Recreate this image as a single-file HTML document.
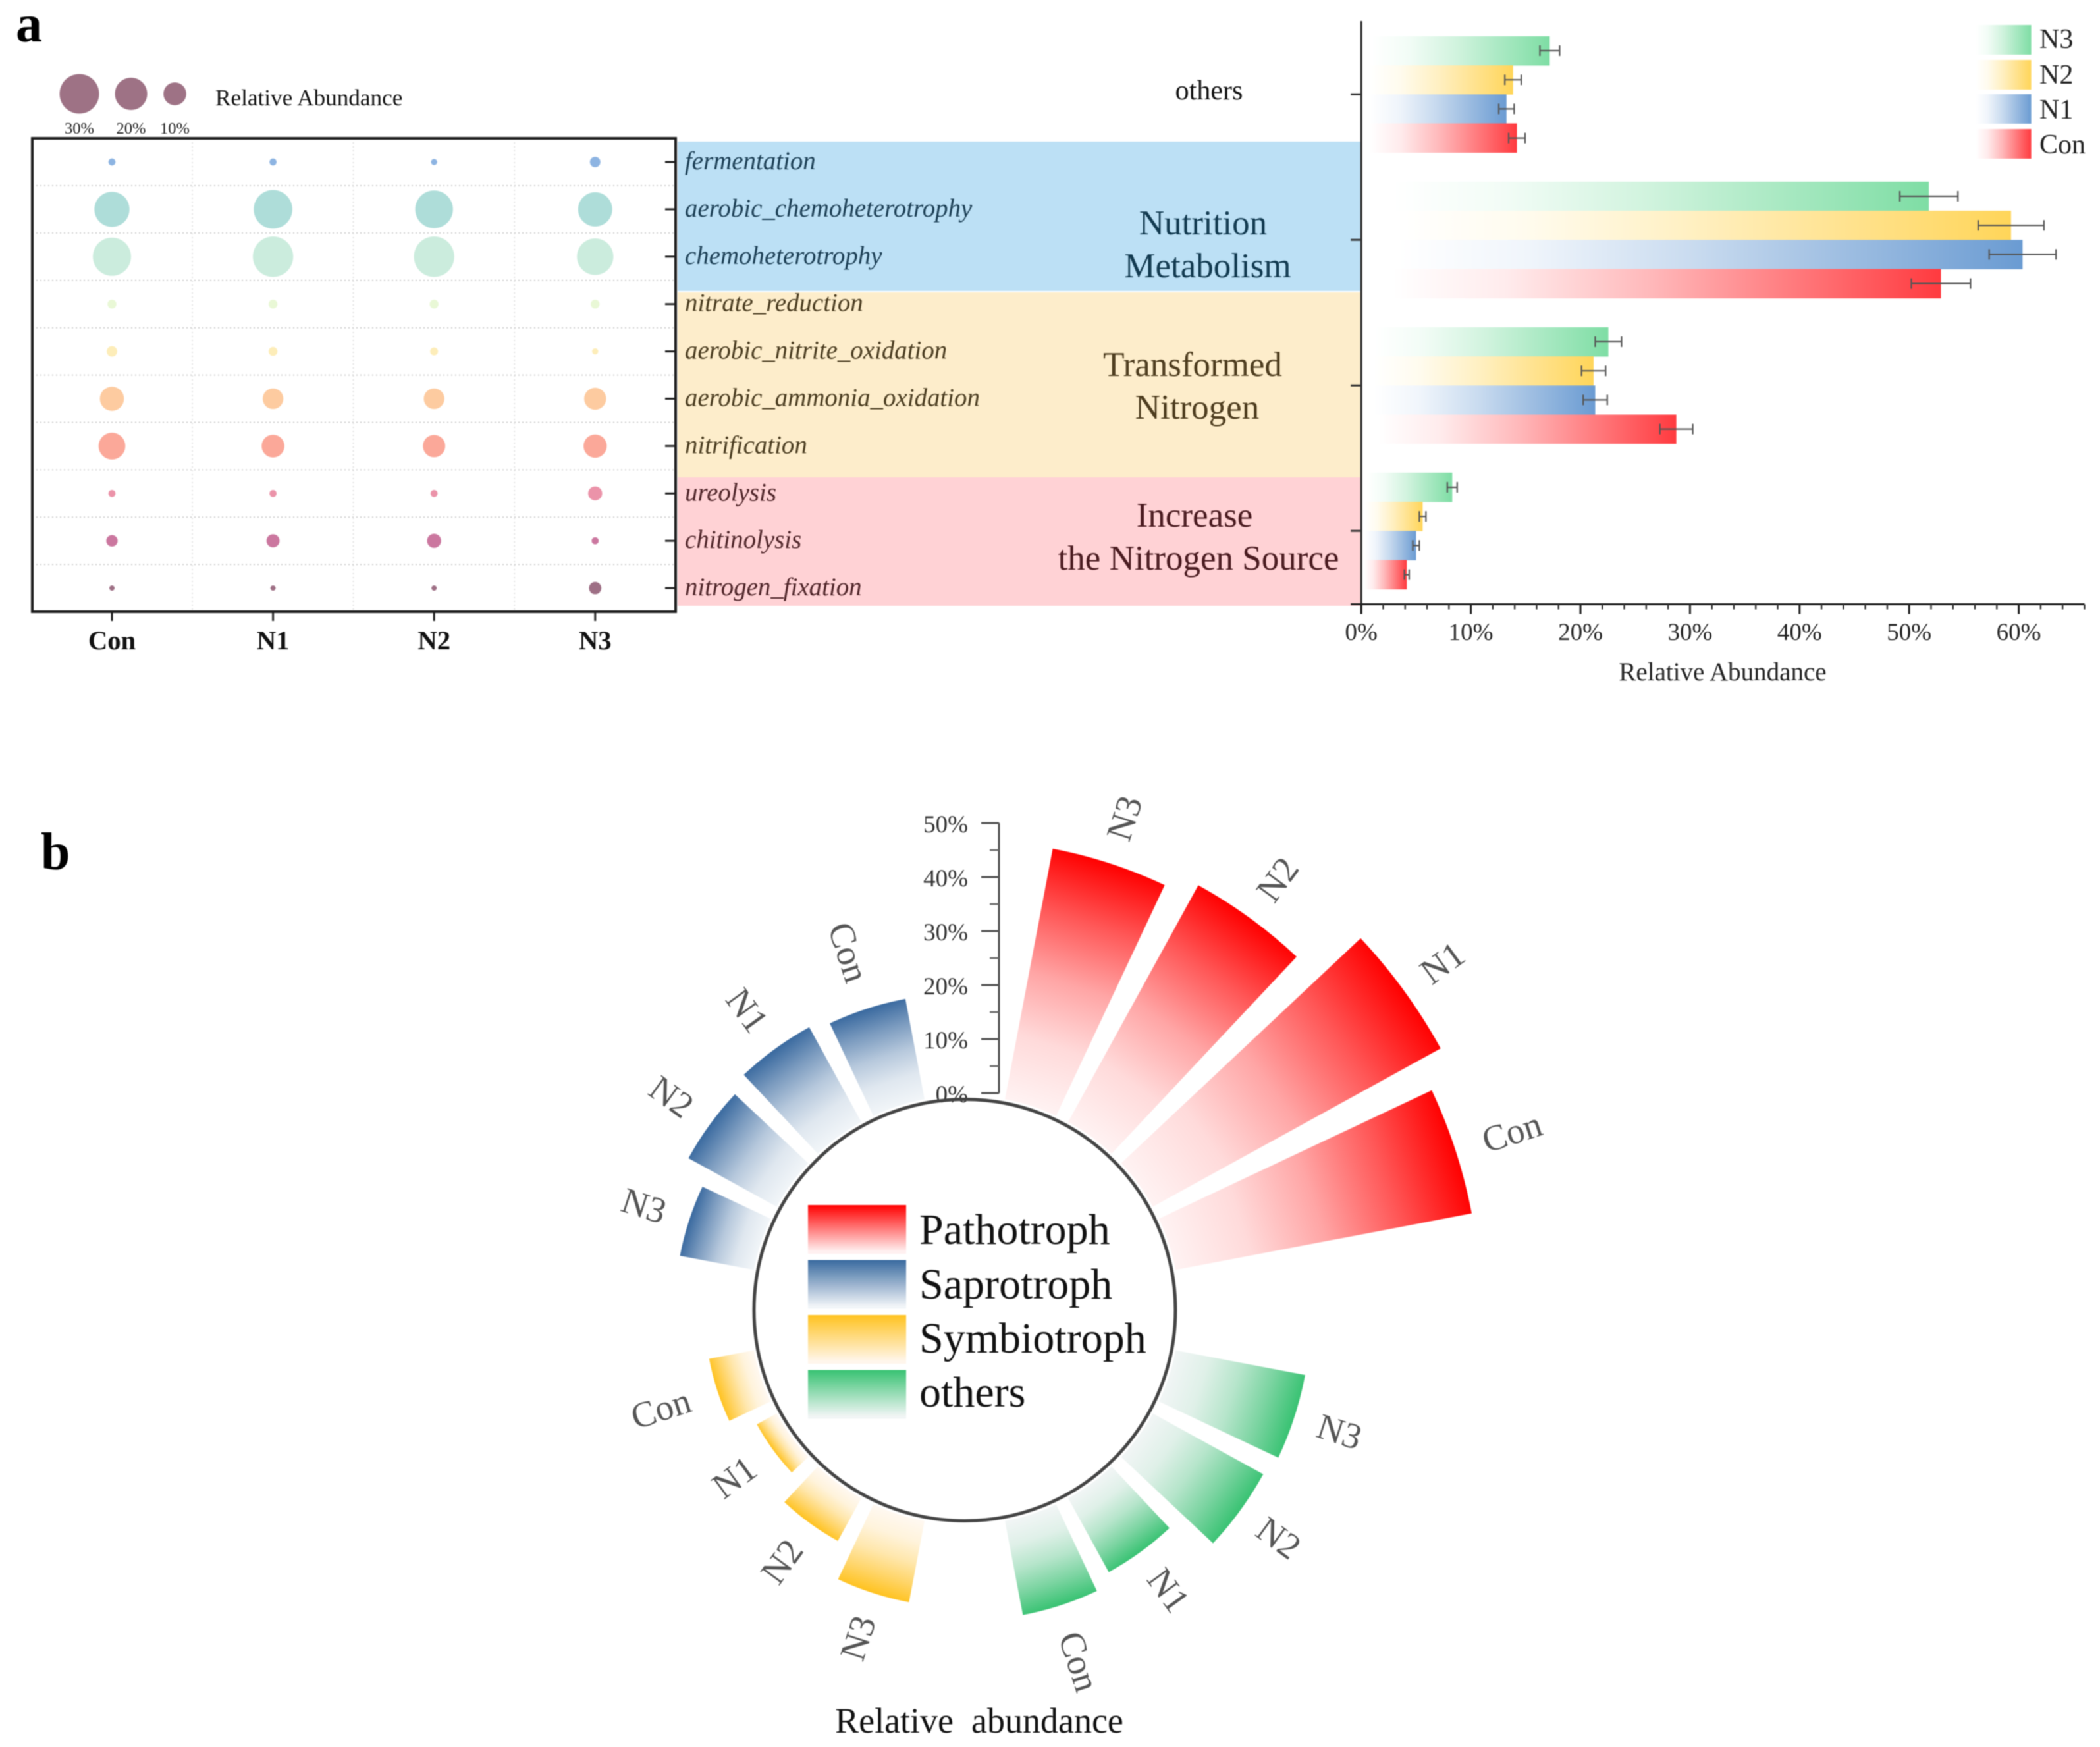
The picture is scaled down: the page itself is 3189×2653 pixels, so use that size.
<!DOCTYPE html>
<html lang="en">
<head>
<meta charset="utf-8">
<title>Functional relative abundance charts</title>
<style>
html,body{margin:0;padding:0;background:#fff;}
svg{display:block;font-family:"Liberation Serif",serif;filter:blur(0.7px);}
</style>
</head>
<body>
<svg id="figure" xmlns="http://www.w3.org/2000/svg" width="3189" height="2653" viewBox="0 0 3189 2653">
  <defs id="defs"></defs>
  <rect x="0" y="0" width="3189" height="2653" fill="#fff"/>
  <text x="24" y="63" font-size="80" font-weight="bold" fill="#000">a</text>
  <text x="62" y="1320" font-size="80" font-weight="bold" fill="#000">b</text>

  <rect x="1029" y="215" width="1038" height="227" fill="#bce0f5"/>
  <rect x="1029" y="444" width="1038" height="281" fill="#fdedcb"/>
  <rect x="1029" y="725" width="1038" height="195" fill="#ffd2d5"/>

  <text x="1836" y="151" font-size="42" text-anchor="middle" fill="#111">others</text>
  <text x="1827" y="356" font-size="53" text-anchor="middle" fill="#123a50">Nutrition</text>
  <text x="1834" y="421" font-size="53" text-anchor="middle" fill="#123a50">Metabolism</text>
  <text x="1811" y="571" font-size="53" text-anchor="middle" fill="#4d3c1e">Transformed</text>
  <text x="1818" y="636" font-size="53" text-anchor="middle" fill="#4d3c1e">Nitrogen</text>
  <text x="1814" y="800" font-size="53" text-anchor="middle" fill="#4a1b20">Increase</text>
  <text x="1820" y="865" font-size="53" text-anchor="middle" fill="#4a1b20">the Nitrogen Source</text>

  <g id="bubble-chart"></g>
  <g id="bar-chart"></g>
  <g id="polar-chart"></g>

  <text x="327" y="160" font-size="35.2" fill="#111">Relative Abundance</text>
  <text x="2616" y="1033" font-size="39" text-anchor="middle" fill="#222">Relative Abundance</text>
  <text x="1487" y="2631" font-size="54" text-anchor="middle" fill="#111">Relative&#160;&#160;abundance</text>
</svg>

<script>
/* ---------- bubble chart data ---------- */
const bubbleTreatments = ['Con', 'N1', 'N2', 'N3'];
const bubbleFunctions = ['fermentation', 'aerobic_chemoheterotrophy', 'chemoheterotrophy', 'nitrate_reduction', 'aerobic_nitrite_oxidation', 'aerobic_ammonia_oxidation', 'nitrification', 'ureolysis', 'chitinolysis', 'nitrogen_fixation'];
const bubbleCon = [0.95, 23.7, 28, 1.5, 2.1, 11.2, 13.8, 0.95, 2.5, 0.53];
const bubbleN1 = [0.95, 28.7, 31.3, 1.5, 1.5, 8.2, 10, 0.95, 3.3, 0.53];
const bubbleN2 = [0.73, 27.4, 31.3, 1.5, 1.2, 8.2, 9.6, 0.95, 3.8, 0.53];
const bubbleN3 = [2.1, 22.5, 25.5, 1.5, 0.73, 9.3, 10.4, 3.8, 0.95, 2.9];
const bubbleColors = ['#8db4e2', '#aeddd9', '#cbecdd', '#e9f8d6', '#fdedb9', '#fdcba0', '#fba899', '#eb93a9', '#cb779f', '#9e6f85'];
const bubbleLegendValues = [30, 20, 10];
const bubbleLegendLabels = ['30%', '20%', '10%'];

/* ---------- bar chart data ---------- */
const barGroups = ['others', 'nutrition-metabolism', 'transformed-nitrogen', 'increase-nitrogen-source'];
const barSeriesNames = ['N3', 'N2', 'N1', 'Con'];
const barN3 = [17.2, 51.8, 22.55, 8.3];
const barN2 = [13.85, 59.3, 21.2, 5.6];
const barN1 = [13.25, 60.35, 21.35, 5.0];
const barCon = [14.2, 52.9, 28.75, 4.15];
const errN3 = [0.9, 2.65, 1.2, 0.45];
const errN2 = [0.75, 3.0, 1.1, 0.3];
const errN1 = [0.7, 3.05, 1.1, 0.3];
const errCon = [0.75, 2.7, 1.5, 0.22];
const barColors = ['#7edda4', '#ffd559', '#6a9bd2', '#ff3a3f'];
const barTickLabels = ['0%', '10%', '20%', '30%', '40%', '50%', '60%'];
const barTickValues = [0, 10, 20, 30, 40, 50, 60];

/* ---------- polar chart data ---------- */
const polarGroupNames = ['Pathotroph', 'others', 'Symbiotroph', 'Saprotroph'];
const polarTreatments = ['N3', 'N2', 'N1', 'Con'];
const polarPathotroph = [46.8, 49.6, 60.4, 55.4];
const polarOthers = [24, 22.9, 15.2, 17.3];
const polarSymbiotroph = [14.9, 8.6, 3.75, 8.0];
const polarSaprotroph = [13.5, 18.2, 19.6, 18.5];
const polarColors = ['#ff0000', '#38c272', '#ffc21f', '#39699f'];
const polarTints = ['#fff2f2', '#f1f5f5', '#fff8f0', '#f1f5f8'];
const polarLegendNames = ['Pathotroph', 'Saprotroph', 'Symbiotroph', 'others'];
const polarLegendColors = ['#ff0000', '#39699f', '#ffc21f', '#38c272'];
const polarLegendTints = ['#fff0f0', '#f1f5f8', '#fff6ec', '#f1f5f5'];
const polarTickValues = [0, 10, 20, 30, 40, 50];
const polarTickLabels = ['0%', '10%', '20%', '30%', '40%', '50%'];

const SVGNS = 'http://www.w3.org/2000/svg';
const defs = document.getElementById('defs');
function make(tag, parent, attrs, text) {
  const node = document.createElementNS(SVGNS, tag);
  for (const k in attrs) node.setAttribute(k, attrs[k]);
  if (text !== undefined) node.textContent = text;
  parent.appendChild(node);
  return node;
}
function hexMix(a, b, t) {
  const pa = [1, 3, 5].map(i => parseInt(a.substr(i, 2), 16));
  const pb = [1, 3, 5].map(i => parseInt(b.substr(i, 2), 16));
  return 'rgb(' + pa.map((v, i) => Math.round(v + (pb[i] - v) * t)).join(',') + ')';
}
const RAMP_POS = [0, 0.25, 0.5, 0.75, 1];
const RAMP_MIX = [0, 0.1, 0.32, 0.64, 1];

/* ========== bubble chart ========== */
(function () {
  const g = document.getElementById('bubble-chart');
  const box = { left: 49, right: 1026, top: 210, bottom: 929 };
  const colX = i => 170 + i * 244.6;
  const rowY = i => 246 + i * 71.9;
  const radius = v => 30 * Math.sqrt(v / 30);
  const series = [bubbleCon, bubbleN1, bubbleN2, bubbleN3];
  const rowTextColors = ['#1c3f55', '#1c3f55', '#1c3f55', '#4a3c20', '#4a3c20', '#4a3c20', '#4a3c20', '#4f2529', '#4f2529', '#4f2529'];

  bubbleFunctions.forEach((name, r) => {
    if (r < bubbleFunctions.length - 1) {
      const grid = make('line', g, { x1: box.left, x2: box.right, y1: rowY(r) + 36, y2: rowY(r) + 36, stroke: '#cfcfcf', 'stroke-width': 2, 'stroke-dasharray': '2 4' });
      
      
    }
    const tick = make('line', g, { x1: box.right - 16, x2: box.right, y1: rowY(r), y2: rowY(r), stroke: '#222', 'stroke-width': 3 });
    
    
    const label = make('text', g, { x: 1040, y: rowY(r) + 11, 'font-size': 38.9, 'font-style': 'italic', fill: rowTextColors[r] }, name);
    
    
  });

  bubbleTreatments.forEach((name, c) => {
    if (c < bubbleTreatments.length - 1) {
      const grid = make('line', g, { x1: colX(c) + 122, x2: colX(c) + 122, y1: box.top, y2: box.bottom, stroke: '#e2e2e2', 'stroke-width': 2, 'stroke-dasharray': '2 4' });
      
      
    }
    const tick = make('line', g, { x1: colX(c), x2: colX(c), y1: box.bottom, y2: box.bottom + 14, stroke: '#222', 'stroke-width': 3 });
    
    
    const label = make('text', g, { x: colX(c), y: 986, 'font-size': 40.7, 'font-weight': 'bold', 'text-anchor': 'middle', fill: '#111' }, name);
    
    
    series[c].forEach((v, r) => {
      const dot = make('circle', g, { cx: colX(c), cy: rowY(r), r: radius(v), fill: bubbleColors[r] });
      
      
    });
  });

  const frame = make('rect', g, { x: box.left, y: box.top, width: box.right - box.left, height: box.bottom - box.top, fill: 'none', stroke: '#1c1c1c', 'stroke-width': 4 });
  
  

  const legendX = [120.5, 199, 265.5];
  bubbleLegendValues.forEach((v, i) => {
    const dot = make('circle', g, { cx: legendX[i], cy: 142.5, r: radius(v), fill: '#9e7285' });
    
    
    const label = make('text', g, { x: legendX[i], y: 203, 'font-size': 24.5, 'text-anchor': 'middle', fill: '#222' }, bubbleLegendLabels[i]);
    
    
  });
})();

/* ========== bar chart ========== */
(function () {
  const g = document.getElementById('bar-chart');
  const x0 = 2067.2;
  const pxPerUnit = 16.64;
  const xAxis = v => x0 + v * pxPerUnit;
  const groupY = i => 143.3 + i * 221;
  const barH = 44.2;
  const axisY = 917.5;
  const series = [barN3, barN2, barN1, barCon];
  const errors = [errN3, errN2, errN1, errCon];

  barColors.forEach((c, i) => {
    const lg = make('linearGradient', defs, { id: 'barGrad' + i, x1: 0, x2: 1, y1: 0, y2: 0 });
    make('stop', lg, { offset: '0.05', 'stop-color': '#ffffff' });
    make('stop', lg, { offset: '0.25', 'stop-color': hexMix('#ffffff', c, 0.1) });
    make('stop', lg, { offset: '0.5', 'stop-color': hexMix('#ffffff', c, 0.36) });
    make('stop', lg, { offset: '0.75', 'stop-color': hexMix('#ffffff', c, 0.68) });
    make('stop', lg, { offset: '1', 'stop-color': c });
  });

  barGroups.forEach((name, gi) => {
    series.forEach((vals, si) => {
      const top = groupY(gi) - 2 * barH + si * barH;
      const bar = make('rect', g, { x: xAxis(0) + 1, y: top, width: xAxis(vals[gi]) - xAxis(0) - 1, height: barH + 0.4, fill: 'url(#barGrad' + si + ')' });
      
      
      const cy = top + barH / 2;
      const lo = xAxis(vals[gi] - errors[si][gi]);
      const hi = xAxis(vals[gi] + errors[si][gi]);
      const eb = make('path', g, { d: 'M' + lo + ' ' + (cy - 8) + 'V' + (cy + 8) + 'M' + lo + ' ' + cy + 'H' + hi + 'M' + hi + ' ' + (cy - 8) + 'V' + (cy + 8), fill: 'none', stroke: '#555', 'stroke-width': 2.2 });
      
      
    });
    const tick = make('line', g, { x1: xAxis(0) - 16, x2: xAxis(0), y1: groupY(gi), y2: groupY(gi), stroke: '#333', 'stroke-width': 3 });
    
    
  });

  const yAxis = make('line', g, { x1: xAxis(0), x2: xAxis(0), y1: 32, y2: axisY + 15, stroke: '#333', 'stroke-width': 3 });
  
  
  const xLine = make('line', g, { x1: xAxis(0) - 16, x2: xAxis(66), y1: axisY, y2: axisY, stroke: '#222', 'stroke-width': 3 });
  
  

  for (let m = 0; m <= 66; m += 2) {
    if (m % 10 === 0) continue;
    const minor = make('line', g, { x1: xAxis(m), x2: xAxis(m), y1: axisY, y2: axisY + 8, stroke: '#333', 'stroke-width': 2.4 });
    
    
  }
  barTickValues.forEach((v, i) => {
    const t = make('line', g, { x1: xAxis(v), x2: xAxis(v), y1: axisY, y2: axisY + 15, stroke: '#222', 'stroke-width': 3 });
    
    
    const lab = make('text', g, { x: xAxis(v), y: 972, 'font-size': 37, 'text-anchor': 'middle', fill: '#222' }, barTickLabels[i]);
    
    
  });

  const legendY = [38, 91, 143, 196];
  const legendText = [73, 127, 180, 233];
  barSeriesNames.forEach((n, i) => {
    const sw = make('rect', g, { x: 2996, y: legendY[i], width: 88.5, height: 45, fill: 'url(#barGrad' + i + ')' });
    
    
    const t = make('text', g, { x: 3097, y: legendText[i], 'font-size': 42, fill: '#222' }, n);
    
    
  });
})();

/* ========== polar chart ========== */
(function () {
  const g = document.getElementById('polar-chart');
  const cx = 1465, cy = 1989.5;
  const r0 = 329.5, pxPerUnit = 8.2, innerR = 326;
  const rAxis = v => r0 + v * pxPerUnit;
  const series = [polarPathotroph, polarOthers, polarSymbiotroph, polarSaprotroph];
  const startSlot = [0, 5, 10, 15];
  const slotStart = s => 10.8 + 18 * s;
  const sweep = 14.4;
  const pt = (r, deg) => {
    const a = deg * Math.PI / 180;
    return [cx + r * Math.sin(a), cy - r * Math.cos(a)];
  };

  series.forEach((vals, gi) => {
    vals.forEach((v, i) => {
      const a0 = slotStart(startSlot[gi] + i);
      const a1 = a0 + sweep;
      const mid = a0 + sweep / 2;
      const R = rAxis(v);
      const gradId = 'sectorGrad' + gi + '_' + i;
      const gStart = pt(innerR, mid);
      const gEnd = pt(R, mid);
      const lg = make('linearGradient', defs, { id: gradId, gradientUnits: 'userSpaceOnUse', x1: gStart[0], y1: gStart[1], x2: gEnd[0], y2: gEnd[1] });
      RAMP_POS.forEach((p, s) => {
        make('stop', lg, { offset: p, 'stop-color': hexMix(polarTints[gi], polarColors[gi], RAMP_MIX[s]) });
      });
      const p1 = pt(innerR, a0), p2 = pt(R, a0), p3 = pt(R, a1), p4 = pt(innerR, a1);
      const d = 'M' + p1 + 'L' + p2 + 'A' + R + ' ' + R + ' 0 0 1 ' + p3 + 'L' + p4 + 'A' + innerR + ' ' + innerR + ' 0 0 0 ' + p1 + 'Z';
      const sector = make('path', g, { d: d, fill: 'url(#' + gradId + ')' });
      
      

      const name = polarTreatments[i];
      const labelR = R + 46 + (name === 'Con' ? 44 : 26);
      const lp = pt(labelR, mid);
      const rot = mid < 180 ? mid - 90 : mid - 270;
      const label = make('text', g, { x: lp[0], y: lp[1], dy: '0.33em', 'font-size': 55, 'text-anchor': 'middle', fill: '#555', transform: 'rotate(' + rot + ' ' + lp[0] + ' ' + lp[1] + ')' }, name);
      
      
    });
  });

  /* radial axis */
  const axisX = 1517;
  const axisY = v => cy - rAxis(v);
  const axis = make('line', g, { x1: axisX, x2: axisX, y1: axisY(0), y2: axisY(50), stroke: '#555', 'stroke-width': 3 });
  
  
  polarTickValues.forEach((v, i) => {
    const t = make('line', g, { x1: axisX - 27, x2: axisX, y1: axisY(v), y2: axisY(v), stroke: '#555', 'stroke-width': 3 });
    
    
    if (v < 50) {
      const m = make('line', g, { x1: axisX - 14, x2: axisX, y1: axisY(v + 5), y2: axisY(v + 5), stroke: '#666', 'stroke-width': 2.5 });
      
      
    }
    const lab = make('text', g, { x: 1470, y: axisY(v) + 14, 'font-size': 37, 'text-anchor': 'end', fill: '#333' }, polarTickLabels[i]);
    
    
  });

  const circle = make('circle', g, { cx: cx, cy: cy, r: 320, fill: '#fff', 'fill-opacity': 0, stroke: '#444', 'stroke-width': 5 });
  
  

  /* inner legend */
  const legendTop = i => 1830 + i * 83.5;
  const textBase = [1889, 1972, 2054, 2136];
  polarLegendNames.forEach((n, i) => {
    const lg = make('linearGradient', defs, { id: 'polarLegend' + i, x1: 0, x2: 0, y1: 0, y2: 1 });
    make('stop', lg, { offset: '0', 'stop-color': polarLegendColors[i] });
    make('stop', lg, { offset: '0.95', 'stop-color': polarLegendTints[i] });
    const sw = make('rect', g, { x: 1227, y: legendTop(i), width: 149, height: 74, fill: 'url(#polarLegend' + i + ')' });
    
    
    const t = make('text', g, { x: 1396, y: textBase[i], 'font-size': 66, fill: '#111' }, n);
    
    
  });
})();
</script>
</body>
</html>
